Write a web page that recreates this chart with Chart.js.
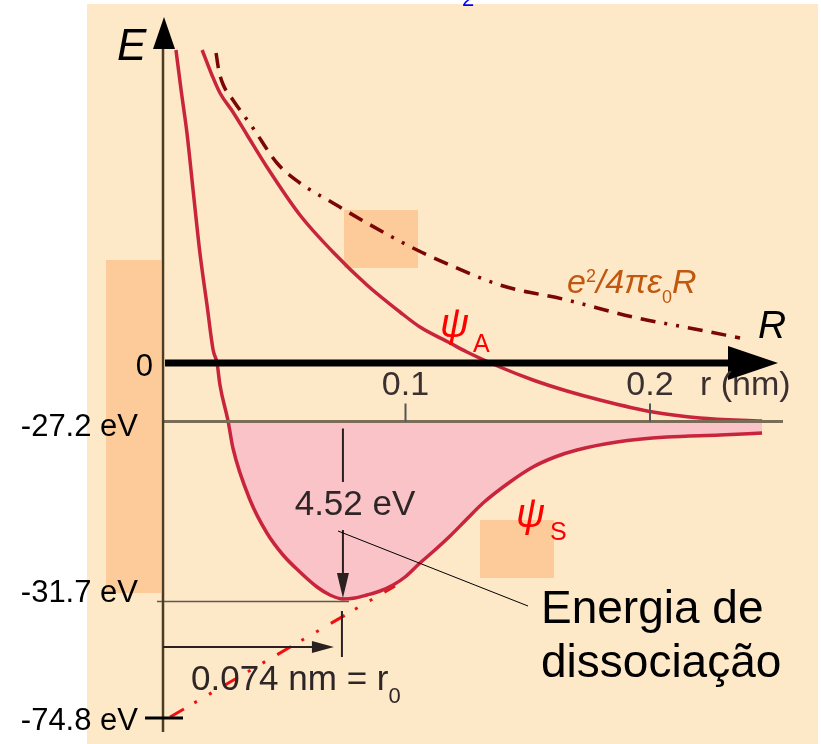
<!DOCTYPE html>
<html><head><meta charset="utf-8">
<script src="https://cdn.jsdelivr.net/npm/chart.js@4.4.1/dist/chart.umd.min.js"></script>
<style>html,body{margin:0;padding:0;background:#fff}canvas{display:block}</style>
</head><body>
<canvas id="c" width="821" height="744"></canvas>
<script>
// Schematic H2+ potential-energy diagram. x: separation r (nm); y: schematic energy units (diagram is not to scale).
const psiS_r = [0.0053,0.0074,0.0098,0.0123,0.0151,0.0180,0.0205,0.0221,0.0233,0.0266,0.0286,0.0356,0.0425,0.0491,0.0560,0.0630,0.0683,0.0736,0.0785,0.0834,0.0888,0.0941,0.0990,0.1051,0.1112,0.1174,0.1243,0.1309,0.1419,0.1513,0.1603,0.1693,0.1857,0.2061,0.2278,0.2450];
const psiS_E = [31.3,27.3,23.0,17.3,11.0,5.8,1.3,0.0,-2.2,-5.8,-8.5,-13.7,-17.0,-19.2,-20.9,-22.4,-23.2,-23.6,-23.5,-23.2,-22.8,-22.2,-21.4,-20.0,-18.7,-17.3,-15.6,-14.0,-11.9,-10.4,-9.4,-8.7,-7.9,-7.4,-7.2,-7.0];
const psiA_r = [0.0160,0.0200,0.0233,0.0286,0.0344,0.0425,0.0560,0.0695,0.0834,0.0969,0.1051,0.1174,0.1243,0.1378,0.1513,0.1652,0.1787,0.2004,0.2196,0.2450];
const psiA_E = [31.3,28.8,27.0,25.1,22.8,19.6,14.8,11.1,7.8,5.1,3.6,2.0,1.1,-0.4,-1.7,-2.8,-3.7,-4.9,-5.5,-5.8];
const coul_r = [0.0217,0.0228,0.0245,0.0286,0.0368,0.0466,0.0560,0.0695,0.0834,0.1039,0.1174,0.1378,0.1652,0.1922,0.2196,0.2360];
const coul_E = [31.0,29.3,27.9,26.3,23.5,20.0,18.0,16.0,14.0,11.3,9.8,7.8,6.3,4.6,3.3,2.5];
const tangent_r = [0.0029,0.0949];
const tangent_E = [-35.4,-22.3];
const xTickValues = [0.1, 0.2];
const xTickLabels = ["0.1", "0.2"];
const yTickValues = [0, -5.85, -23.8, -35.5];
const yTickLabels = ["0", "-27.2 eV", "-31.7 eV", "-74.8 eV"];
const LEVEL = -5.85;   // -27.2 eV level (separated atoms)
const R0 = 0.074;      // equilibrium separation

const pts = (xs, ys) => xs.map((x, i) => ({x, y: ys[i]}));
const wellPts = pts(psiS_r, psiS_E).filter(p => p.y <= LEVEL + 0.06);

const diagram = {
  id: 'diagram',
  beforeDraw(chart) {
    const c = chart.ctx;
    c.save();
    c.fillStyle = '#ffffff'; c.fillRect(0, 0, 821, 744);
    c.fillStyle = '#FDE8C7'; c.fillRect(87, 4, 731, 740);
    c.fillStyle = '#FDCB99';
    c.fillRect(106, 260, 55, 333);
    c.fillRect(344, 210, 74, 58);
    c.fillRect(480, 520, 74, 58);
    c.restore();
  },
  afterDatasetsDraw(chart) {
    const c = chart.ctx, xs = chart.scales.x, ys = chart.scales.y;
    const X = v => xs.getPixelForValue(v), Y = v => ys.getPixelForValue(v);
    const x0 = X(0), y0 = Y(0), yL = Y(LEVEL), yMin = Y(yTickValues[2]), yB = Y(yTickValues[3]);
    const xr0 = X(R0);
    c.save();
    // level line -27.2
    c.strokeStyle = '#7b6c58'; c.lineWidth = 3;
    c.beginPath(); c.moveTo(x0, yL); c.lineTo(783, yL); c.stroke();
    // x ticks
    c.strokeStyle = '#555'; c.lineWidth = 2;
    xTickValues.forEach(v => { c.beginPath(); c.moveTo(X(v) - 2, yL - 18); c.lineTo(X(v) - 2, yL); c.stroke(); });
    // -31.7 line
    c.strokeStyle = '#615856'; c.lineWidth = 1.5;
    c.beginPath(); c.moveTo(157, yMin + 0.5); c.lineTo(xr0 + 5, yMin + 0.5); c.stroke();
    // vertical E axis
    c.strokeStyle = '#4b3d24'; c.lineWidth = 2.5;
    c.beginPath(); c.moveTo(x0, 49); c.lineTo(x0, 732); c.stroke();
    c.fillStyle = '#000';
    c.beginPath(); c.moveTo(x0 + 1, 17); c.lineTo(x0 - 10, 49); c.lineTo(x0 + 12, 49); c.closePath(); c.fill();
    // R axis
    c.strokeStyle = '#000'; c.lineWidth = 7;
    c.beginPath(); c.moveTo(x0 + 2, y0); c.lineTo(735, y0); c.stroke();
    c.beginPath(); c.moveTo(778, y0); c.lineTo(728, y0 - 17); c.lineTo(728, y0 + 17); c.closePath(); c.fill();
    // -74.8 tick
    c.lineWidth = 3;
    c.beginPath(); c.moveTo(145, yB); c.lineTo(183, yB); c.stroke();
    // 4.52 eV arrow
    c.strokeStyle = '#2a2020'; c.fillStyle = '#2a2020'; c.lineWidth = 2;
    c.beginPath(); c.moveTo(xr0 - 1, yL + 7); c.lineTo(xr0 - 1, 482); c.stroke();
    c.beginPath(); c.moveTo(xr0 - 1, 530); c.lineTo(xr0 - 1, 575); c.stroke();
    c.beginPath(); c.moveTo(xr0 - 1, yMin - 3); c.lineTo(xr0 - 7, yMin - 28); c.lineTo(xr0 + 5, yMin - 28); c.closePath(); c.fill();
    // r0 arrow
    c.beginPath(); c.moveTo(x0, 647); c.lineTo(318, 647); c.stroke();
    c.beginPath(); c.moveTo(xr0 - 10, 647); c.lineTo(xr0 - 32, 641); c.lineTo(xr0 - 32, 653); c.closePath(); c.fill();
    c.beginPath(); c.moveTo(xr0 - 2, 611); c.lineTo(xr0 - 2, 657); c.stroke();
    // leader line
    c.strokeStyle = '#000'; c.lineWidth = 1;
    c.beginPath(); c.moveTo(338, 531); c.lineTo(528, 606); c.stroke();

    // texts
    const F = 'Liberation Sans, Arial, sans-serif';
    c.textBaseline = 'alphabetic';
    c.fillStyle = '#000';
    c.font = '31px ' + F; c.textAlign = 'right';
    c.fillText(yTickLabels[0], 153, 376);
    c.fillText(yTickLabels[1], 138, 436);
    c.fillText(yTickLabels[2], 138, 602);
    c.fillText(yTickLabels[3], 138, 730);
    c.fillStyle = '#3a3030'; c.font = '34px ' + F; c.textAlign = 'center';
    xTickValues.forEach((v, i) => c.fillText(xTickLabels[i], X(v) - 2, 395));
    c.textAlign = 'left'; c.fillText('r (nm)', 700, 395);
    // E and R
    c.fillStyle = '#000';
    c.font = 'italic 44px ' + F; c.fillText('E', 117, 60);
    c.font = 'italic 39px ' + F; c.fillText('R', 758, 338);
    // psi labels
    c.fillStyle = '#ff0000';
    c.font = 'italic 40px ' + F; c.fillText('ψ', 440, 337);
    c.font = '25px ' + F; c.fillText('A', 473, 352);
    c.font = 'italic 40px ' + F; c.fillText('ψ', 516, 527);
    c.font = '25px ' + F; c.fillText('S', 550, 540);
    // coulomb label
    c.fillStyle = '#C0580F';
    let x = 567;
    const part = (t, font, yb) => { c.font = font; c.fillText(t, x, yb); x += c.measureText(t).width; };
    part('e', 'italic 34px ' + F, 293);
    part('2', '18px ' + F, 282);
    part('/4πε', 'italic 34px ' + F, 293);
    part('0', '18px ' + F, 303);
    part('R', 'italic 34px ' + F, 293);
    // 4.52 eV and r0
    c.fillStyle = '#2e2626';
    c.font = '35px ' + F; c.textAlign = 'center';
    c.fillText('4.52 eV', 355, 515);
    c.textAlign = 'left';
    x = 191;
    part('0.074 nm = r', '35px ' + F, 690);
    part('0', '22px ' + F, 703);
    // Energia de dissociação
    c.fillStyle = '#000'; c.font = '46px ' + F;
    c.fillText('Energia de', 541, 623);
    c.fillText('dissociação', 541, 677);
    // blue fragment at top
    c.fillStyle = '#0000ff'; c.font = '22px ' + F;
    c.fillText('2', 462, 6);
    c.restore();
  }
};

const curveColor = '#C8253C';
new Chart(document.getElementById('c'), {
  type: 'scatter',
  data: {
    datasets: [
      { label: 'well', data: wellPts, showLine: true, pointRadius: 0, borderWidth: 0, borderColor: 'rgba(0,0,0,0)',
        backgroundColor: '#F9C3C8', fill: { value: LEVEL }, cubicInterpolationMode: 'monotone' },
      { label: 'psiS', data: pts(psiS_r, psiS_E), showLine: true, pointRadius: 0, borderWidth: 3.5,
        borderColor: curveColor, fill: false, cubicInterpolationMode: 'monotone' },
      { label: 'psiA', data: pts(psiA_r, psiA_E), showLine: true, pointRadius: 0, borderWidth: 3.5,
        borderColor: curveColor, fill: false, cubicInterpolationMode: 'monotone' },
      { label: 'coulomb', data: pts(coul_r, coul_E), showLine: true, pointRadius: 0, borderWidth: 3.5,
        borderColor: '#7a0606', borderDash: [15, 9, 15, 9, 15, 9, 3, 9, 3, 9], fill: false, cubicInterpolationMode: 'monotone' },
      { label: 'tangent', data: pts(tangent_r, tangent_E), showLine: true, pointRadius: 0, borderWidth: 3,
        borderColor: '#ee1111', borderDash: [16, 12, 3, 14, 3, 14], fill: false }
    ]
  },
  options: {
    responsive: false, animation: false, devicePixelRatio: 1,
    layout: { padding: 0 },
    scales: {
      x: { type: 'linear', display: false, min: -0.06667, max: 0.26912 },
      y: { type: 'linear', display: false, min: -38.1, max: 36.3 }
    },
    plugins: { legend: { display: false }, tooltip: { enabled: false }, title: { display: false },
      filler: { drawTime: 'beforeDatasetsDraw' } }
  },
  plugins: [diagram]
});
</script>
</body></html>
